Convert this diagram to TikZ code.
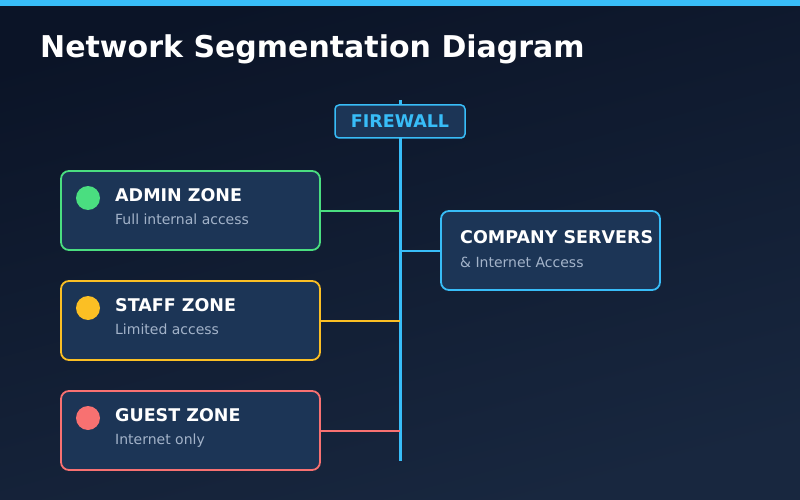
\documentclass[tikz,border=0pt]{standalone}
\usepackage{fontspec}
\setmainfont{DejaVu Sans}
\usetikzlibrary{positioning}
\definecolor{bgtop}{HTML}{0B1427}
\definecolor{bgbot}{HTML}{18273F}
\definecolor{skyline}{HTML}{38BDF8}
\definecolor{boxfill}{HTML}{1C3556}
\definecolor{admincol}{HTML}{4ADE80}
\definecolor{staffcol}{HTML}{FBBF24}
\definecolor{guestcol}{HTML}{F87171}
\definecolor{subtext}{HTML}{A3B3C9}

\begin{document}
\begin{tikzpicture}[
    x=1pt, y=-1pt,
    zone/.style={rectangle, fill=boxfill, line width=1.8pt, rounded corners=8pt, minimum width=259pt, minimum height=79pt, inner sep=0pt},
    fwbox/.style={rectangle, draw=skyline, fill=boxfill, line width=1.5pt, rounded corners=4pt, minimum width=130pt, minimum height=33pt, inner sep=0pt, text=skyline, font=\fontsize{17.5}{20}\selectfont\bfseries},
    dot/.style={circle, minimum size=24pt, inner sep=0pt},
    zonetitle/.style={anchor=base west, text=white, font=\fontsize{17.5}{20}\selectfont\bfseries, inner sep=0pt},
    zonenote/.style={anchor=base west, text=subtext, font=\fontsize{14}{17}\selectfont, inner sep=0pt},
    link/.style={line width=2pt}
]

% Background and top bar
\shade[top color=bgtop, bottom color=bgbot, shading angle=15] (0,0) rectangle (800,500);
\fill[skyline] (0,0) rectangle (800,6);
\useasboundingbox (0,0) rectangle (800,500);

% Title
\node[anchor=base west, text=white, font=\fontsize{30}{36}\selectfont\bfseries, inner sep=0pt] (title) at (40,58) {Network Segmentation Diagram};

% Firewall spine
\coordinate (spinetop) at (400,100);
\coordinate (spinebot) at (400,461);
\draw[skyline, line width=3pt] (spinetop) -- (spinebot);
\node[fwbox] (firewall) at (400,121.5) {FIREWALL};

% Zones
\node[zone, draw=admincol] (admin) at (190.5,210.5) {};
\node[dot, fill=admincol] (admindot) at (88,198) {};
\node[zonetitle] (admintitle) at (115,201) {ADMIN ZONE};
\node[zonenote] (adminnote) at (115,224) {Full internal access};

\node[zone, draw=staffcol] (staff) at (190.5,320.5) {};
\node[dot, fill=staffcol] (staffdot) at (88,308) {};
\node[zonetitle] (stafftitle) at (115,311) {STAFF ZONE};
\node[zonenote] (staffnote) at (115,334) {Limited access};

\node[zone, draw=guestcol] (guest) at (190.5,430.5) {};
\node[dot, fill=guestcol] (guestdot) at (88,418) {};
\node[zonetitle] (guesttitle) at (115,421) {GUEST ZONE};
\node[zonenote] (guestnote) at (115,444) {Internet only};

% Servers
\node[zone, draw=skyline, minimum width=219pt] (servers) at (550.5,250.5) {};
\node[zonetitle] (serverstitle) at (460,243) {COMPANY SERVERS};
\node[zonenote] (serversnote) at (460,267) {\& Internet Access};

% Links to the spine
\draw[link, admincol] (admin.east) -- (admin.east -| spinetop);
\draw[link, staffcol] (staff.east) -- (staff.east -| spinetop);
\draw[link, guestcol] (guest.east) -- (guest.east -| spinetop);
\draw[link, skyline] (servers.west -| spinetop) -- (servers.west);

\end{tikzpicture}
\end{document}
